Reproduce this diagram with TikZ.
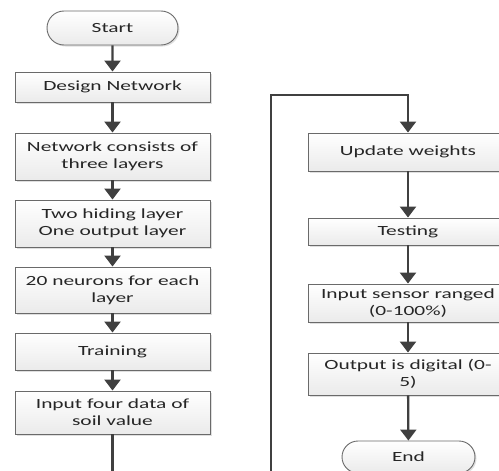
\documentclass[tikz,border=0pt]{standalone}
\usepackage{fontspec}
\setmainfont{Carlito}[FakeStretch=1.53]
\usetikzlibrary{arrows.meta,shadows,shapes.misc}
\definecolor{edgegray}{HTML}{6A6A6A}
\definecolor{arrowgray}{HTML}{404040}
\begin{document}
\begin{tikzpicture}[x=1pt,y=-1pt,
  box/.style={draw=edgegray, line width=0.9pt, top color=white, bottom color=gray!16,
    drop shadow={shadow xshift=1.5pt, shadow yshift=-1.5pt, opacity=0.25},
    align=center, inner sep=2pt, text=black!85,
    font=\fontsize{14}{16.7}\selectfont},
  term/.style={box, rounded rectangle},
  arr/.style={draw=arrowgray, line width=2.3pt, -{Triangle[width=16pt,length=11pt]}},
  ln/.style={draw=arrowgray, line width=2.3pt}
]
\useasboundingbox (0,0) rectangle (499,471);
% left column
\node[term, minimum width=135pt, minimum height=34pt] (start) at (112.5,28) {Start};
\node[box, minimum width=195pt, minimum height=30pt] (design) at (112.5,87) {Design Network};
\node[box, minimum width=195pt, minimum height=47pt] (consist) at (112.5,156.5) {Network consists of\\three layers};
\node[box, minimum width=195pt, minimum height=47pt] (hiding) at (112.5,223.5) {Two hiding layer\\One output layer};
\node[box, minimum width=195pt, minimum height=46pt] (neurons) at (112.5,290) {20 neurons for each\\layer};
\node[box, minimum width=195pt, minimum height=37pt] (train) at (112.5,351.5) {Training};
\node[box, minimum width=195pt, minimum height=43pt] (input) at (112.5,412.5) {Input four data of\\soil value};
\coordinate (lbot) at (112.5,472);
% right column
\node[box, minimum width=200pt, minimum height=38pt] (update) at (408,152) {Update weights};
\node[box, minimum width=200pt, minimum height=27pt] (test) at (408,231.5) {Testing};
\node[box, minimum width=200pt, minimum height=38pt] (sensor) at (408,303) {Input sensor ranged\\(0-100\%)};
\node[box, minimum width=200pt, minimum height=42pt] (output) at (408,374) {Output is digital (0-\\5)};
\node[term, minimum width=137pt, minimum height=32pt] (end) at (408.5,457) {End};
\coordinate (rbot) at (271,472);
\coordinate (rtop) at (271,95);
\coordinate (rtr) at (408,95);
% connectors
\draw[arr] (start) -- (design);
\draw[arr] (design) -- (consist);
\draw[arr] (consist) -- (hiding);
\draw[arr] (hiding) -- (neurons);
\draw[arr] (neurons) -- (train);
\draw[arr] (train) -- (input);
\draw[ln] (input) -- (lbot);
\draw[arr] (rbot) -- (rtop) -- (rtr) -- (update);
\draw[arr] (update) -- (test);
\draw[arr] (test) -- (sensor);
\draw[arr] (sensor) -- (output);
\draw[arr] (output) -- (end);
\end{tikzpicture}
\end{document}
